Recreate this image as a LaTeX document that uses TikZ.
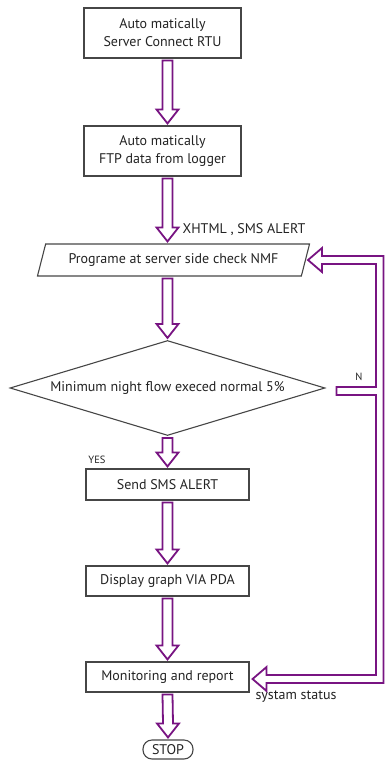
\documentclass[tikz,border=0pt]{standalone}
\usepackage{fontspec}
\setmainfont{PT Sans}
\usetikzlibrary{shapes.geometric,calc}
\definecolor{flowpurple}{RGB}{120,20,130}
\definecolor{boxgray}{RGB}{70,70,70}
\definecolor{textgray}{RGB}{35,35,35}

% hollow block arrow, straight down from #1 to #2
\newcommand{\flowarrow}[2]{%
  \draw[blockarrow] ($(#1)+(-5,2)$) -- ($(#2)+(-5,-16)$) -- ($(#2)+(-11,-16)$)
    -- ($(#2)+(0,-2)$) -- ($(#2)+(11,-16)$) -- ($(#2)+(5,-16)$) -- ($(#1)+(5,2)$) -- cycle;}

\begin{document}
\begin{tikzpicture}[x=1pt,y=-1pt,
  every node/.style={font=\fontsize{14}{18}\selectfont, text=textgray},
  stepbox/.style={draw=boxgray, line width=1.1pt, minimum width=163pt, minimum height=30pt, inner sep=0pt, align=center},
  blockarrow/.style={draw=flowpurple, line width=1.8pt, fill=white, line join=miter},
  smallnote/.style={font=\fontsize{10.5}{12}\selectfont}]
  \useasboundingbox (0,0) rectangle (385,760);

  \node[stepbox, minimum width=157pt, minimum height=50pt] (rtu) at (162.5,33) {Auto matically\\Server Connect RTU};
  \node[stepbox, minimum width=157pt, minimum height=50pt] (ftp) at (162.5,151) {Auto matically\\FTP data from logger};
  \node[draw=boxgray, line width=1.1pt, trapezium, trapezium left angle=68, trapezium right angle=112,
        trapezium stretches=true, minimum width=273pt, minimum height=32pt, inner sep=2pt] (prog) at (173.5,260) {Programe at server side check NMF};
  \node[draw=boxgray, line width=1.1pt, diamond, aspect=3.4, minimum width=315pt, minimum height=95pt, inner sep=0pt] (dec) at (167.5,388) {Minimum night flow execed normal 5\%};
  \node[stepbox, minimum height=31pt] (sms) at (167.5,484.5) {Send SMS ALERT};
  \node[stepbox] (pda) at (167.5,581) {Display graph VIA PDA};
  \node[stepbox] (mon) at (167.5,677) {Monitoring and report};
  \node[draw=boxgray, line width=1.1pt, rounded corners=9pt, minimum width=50pt, minimum height=19pt, inner sep=0pt] (stop) at (168,749.5) {STOP};

  % labels
  \node (xhtml) at (244,230) {XHTML , SMS ALERT};
  \node[smallnote] (yes) at (97,460) {YES};
  \node[smallnote] (nlabel) at (359,377) {N};
  \node (status) at (296,697) {systam status};

  % main flow
  \flowarrow{rtu.south -| dec}{ftp.north -| dec}
  \flowarrow{ftp.south -| dec}{prog.north -| dec}
  \flowarrow{prog.south -| dec}{dec.north}
  \flowarrow{dec.south}{sms.north}
  \flowarrow{sms.south}{pda.north}
  \flowarrow{pda.south}{mon.north}
  \flowarrow{mon.south}{stop.north}

  % return line for N
  \coordinate (ntip) at ($(prog.east)+(2,0)$);
  \coordinate (stip) at ($(mon.east)+(3,2)$);
  \coordinate (nstub) at ($(dec.east)+(11,3)$);
  \draw[blockarrow] let \p1=(ntip), \p2=(stip), \p3=(nstub) in
    (\p1) -- (\x1+14pt,\y1+12pt) -- (\x1+14pt,\y1+4pt) -- (383.5pt,\y1+4pt)
    -- (383.5pt,\y2-4pt) -- (\x2+14pt,\y2-4pt) -- (\x2+14pt,\y2-12pt) -- (\p2)
    -- (\x2+14pt,\y2+12pt) -- (\x2+14pt,\y2+4pt) -- (376pt,\y2+4pt)
    -- (376pt,\y3-4pt) -- (\x3,\y3-4pt) -- (\x3,\y3+4pt) -- (376pt,\y3+4pt)
    -- (376pt,\y1-4pt) -- (\x1+14pt,\y1-4pt) -- (\x1+14pt,\y1-12pt) -- cycle;
\end{tikzpicture}
\end{document}
